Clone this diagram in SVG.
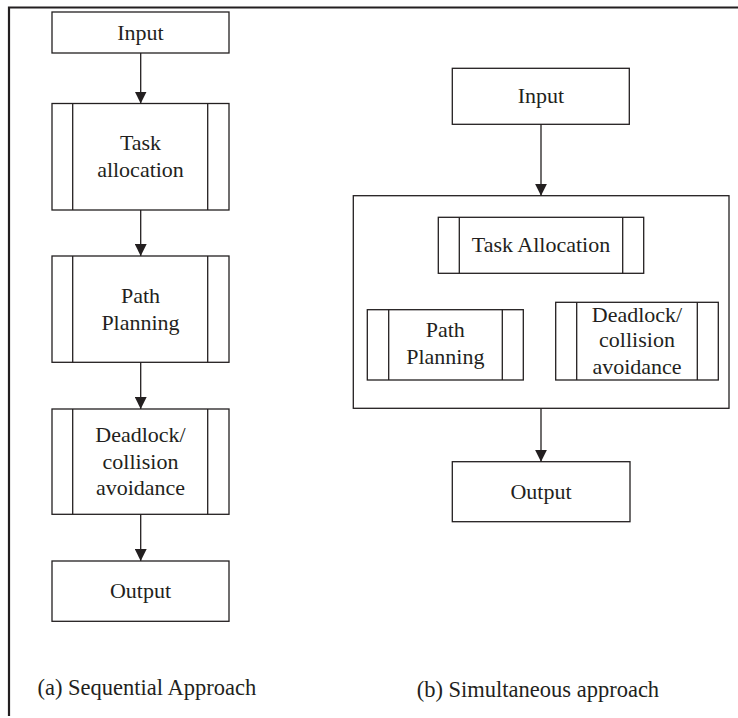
<svg xmlns="http://www.w3.org/2000/svg" width="738" height="718" viewBox="0 0 738 718">
  <style>
    .box { fill: #ffffff; stroke: #231f20; stroke-width: 1.3; }
    .bar { stroke: #231f20; stroke-width: 1.3; }
    .frame { fill: none; stroke: #231f20; stroke-width: 2.2; }
    .edge { stroke: #231f20; stroke-width: 1.3; fill: none; marker-end: url(#arrow); }
    text { font-family: "Liberation Serif", "Times New Roman", serif; font-size: 22px; fill: #231f20; text-anchor: middle; }
    .caption { font-size: 22.5px; text-anchor: start; }
  </style>
  <defs>
    <marker id="arrow" markerWidth="12" markerHeight="12" refX="12" refY="6" orient="auto" markerUnits="userSpaceOnUse">
      <path d="M0,0 L12,6 L0,12 Z" fill="#231f20"/>
    </marker>
  </defs>

  <rect width="738" height="718" fill="#ffffff"/>
  <!-- page frame: top and left rules -->
  <path class="frame" d="M9,716 V7.5 H738"/>

  <!-- (a) sequential column -->
  <g id="a-input">
    <rect class="box" x="52" y="12" width="177" height="41"/>
    <text x="140.5" y="40">Input</text>
  </g>
  <g id="a-task">
    <rect class="box" x="52" y="103.5" width="177" height="106.5"/>
    <line class="bar" x1="72.7" y1="103.5" x2="72.7" y2="210"/>
    <line class="bar" x1="207.7" y1="103.5" x2="207.7" y2="210"/>
    <text x="140.5" y="150">Task</text>
    <text x="140.5" y="177">allocation</text>
  </g>
  <g id="a-path">
    <rect class="box" x="52" y="256" width="177" height="106.3"/>
    <line class="bar" x1="72.7" y1="256" x2="72.7" y2="362.3"/>
    <line class="bar" x1="207.7" y1="256" x2="207.7" y2="362.3"/>
    <text x="140.5" y="302.7">Path</text>
    <text x="140.5" y="329.5">Planning</text>
  </g>
  <g id="a-deadlock">
    <rect class="box" x="52" y="409" width="177" height="105.3"/>
    <line class="bar" x1="72.7" y1="409" x2="72.7" y2="514.3"/>
    <line class="bar" x1="207.7" y1="409" x2="207.7" y2="514.3"/>
    <text x="140.5" y="442">Deadlock/</text>
    <text x="140.5" y="468.5">collision</text>
    <text x="140.5" y="495">avoidance</text>
  </g>
  <g id="a-output">
    <rect class="box" x="52" y="561" width="177" height="60.3"/>
    <text x="140.5" y="598">Output</text>
  </g>
  <g id="a-caption">
    <text class="caption" x="37.5" y="695">(a) Sequential Approach</text>
  </g>

  <!-- (b) simultaneous column -->
  <g id="b-input">
    <rect class="box" x="452.3" y="68.3" width="177" height="56"/>
    <text x="541" y="103">Input</text>
  </g>
  <g id="b-group">
    <rect class="box" x="353.3" y="195.7" width="375.7" height="212.6"/>
  </g>
  <g id="b-task">
    <rect class="box" x="438.3" y="217.3" width="205.4" height="56"/>
    <line class="bar" x1="459.3" y1="217.3" x2="459.3" y2="273.3"/>
    <line class="bar" x1="622.7" y1="217.3" x2="622.7" y2="273.3"/>
    <text x="541" y="252.3">Task Allocation</text>
  </g>
  <g id="b-path">
    <rect class="box" x="367.3" y="309.7" width="156" height="70.3"/>
    <line class="bar" x1="388.7" y1="309.7" x2="388.7" y2="380"/>
    <line class="bar" x1="502.3" y1="309.7" x2="502.3" y2="380"/>
    <text x="445.3" y="337.3">Path</text>
    <text x="445.3" y="364">Planning</text>
  </g>
  <g id="b-deadlock">
    <rect class="box" x="555.7" y="302.3" width="162.6" height="77.7"/>
    <line class="bar" x1="576.7" y1="302.3" x2="576.7" y2="380"/>
    <line class="bar" x1="697.3" y1="302.3" x2="697.3" y2="380"/>
    <text x="637" y="321.7">Deadlock/</text>
    <text x="637" y="347.3">collision</text>
    <text x="637" y="374.3">avoidance</text>
  </g>
  <g id="b-output">
    <rect class="box" x="452.3" y="461.7" width="177.7" height="60"/>
    <text x="541" y="499.3">Output</text>
  </g>
  <g id="b-caption">
    <text class="caption" x="416.7" y="696.5">(b) Simultaneous approach</text>
  </g>

  <!-- connectors -->
  <g id="connectors">
    <line class="edge" x1="140.7" y1="53" x2="140.7" y2="103.5"/>
    <line class="edge" x1="140.7" y1="210" x2="140.7" y2="256"/>
    <line class="edge" x1="140.7" y1="362.3" x2="140.7" y2="409"/>
    <line class="edge" x1="140.7" y1="514.3" x2="140.7" y2="561"/>
    <line class="edge" x1="541" y1="124.3" x2="541" y2="195.7"/>
    <line class="edge" x1="541" y1="408.3" x2="541" y2="461.7"/>
  </g>
</svg>
